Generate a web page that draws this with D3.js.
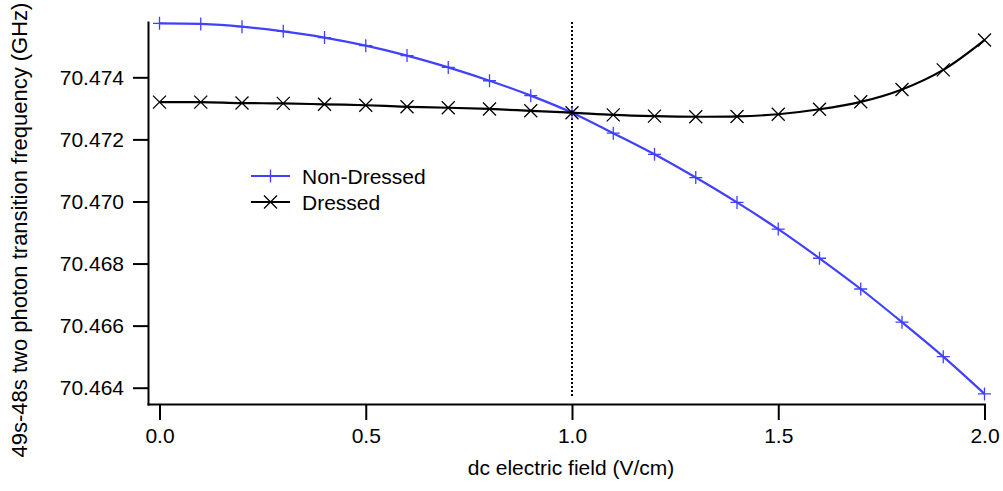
<!DOCTYPE html>
<html>
<head>
<meta charset="utf-8">
<script src="https://cdn.jsdelivr.net/npm/d3@7"></script>
<style>
    body { margin: 0; background: #fff; }
    svg { font-family: "Liberation Sans", Arial, sans-serif; }
    .axis path, .axis line { stroke: #000; stroke-width: 2px; }
    .axis text { font-size: 21px; fill: #000; font-family: "Liberation Sans", Arial, sans-serif; }
    .axis-label { font-size: 21px; fill: #000; }
</style>
</head>
<body>
<div id="chart"></div>
<script>
// dc field (V/cm)
let fields = [0.0, 0.1, 0.2, 0.3, 0.4, 0.5, 0.6, 0.7, 0.8, 0.9, 1.0,
              1.1, 1.2, 1.3, 1.4, 1.5, 1.6, 1.7, 1.8, 1.9, 2.0];

// 49s-48s two photon transition frequency (GHz)
let nonDressed = [70.47574, 70.47572, 70.47563, 70.47548, 70.47528, 70.47502, 70.47470,
                  70.47432, 70.47389, 70.47341, 70.47286, 70.47220, 70.47152, 70.47077,
                  70.46997, 70.46911, 70.46817, 70.46718, 70.46611, 70.46500, 70.46380];
let dressed = [70.47320, 70.47320, 70.47317, 70.47316, 70.47313, 70.47310, 70.47305,
               70.47302, 70.47298, 70.47292, 70.47286, 70.47279, 70.47275, 70.47273,
               70.47274, 70.47281, 70.47297, 70.47321, 70.47361, 70.47424, 70.47520];

let xTicks = [0.0, 0.5, 1.0, 1.5, 2.0];
let yTicks = [70.464, 70.466, 70.468, 70.470, 70.472, 70.474];
let markerField = 1.0;

let seriesNames = ["Non-Dressed", "Dressed"];
let seriesColors = ["#4040ff", "#000000"];

let width = 1003, height = 491;

let svg = d3.select("#chart").append("svg")
    .attr("width", width)
    .attr("height", height);

let xScale = d3.scaleLinear().domain([-0.0279, 2.0]).range([148, 984.5]);
let yScale = d3.scaleLinear().domain([70.463475, 70.475782]).range([404, 22]);

// axes
svg.append("g")
    .attr("class", "axis")
    .attr("transform", "translate(0," + 404 + ")")
    .call(d3.axisBottom(xScale).tickValues(xTicks).tickFormat(d3.format(".1f"))
        .tickSize(16).tickSizeOuter(0).tickPadding(8));

svg.append("g")
    .attr("class", "axis")
    .attr("transform", "translate(" + 148 + ",0)")
    .call(d3.axisLeft(yScale).tickValues(yTicks).tickFormat(d3.format(".3f"))
        .tickSize(15).tickSizeOuter(0).tickPadding(9));

svg.selectAll(".axis .domain").attr("stroke-linecap", "square");

// axis labels
svg.append("text")
    .classed("axis-label", true)
    .text("dc electric field (V/cm)")
    .style("text-anchor", "middle")
    .attr("transform", "translate(" + 571 + "," + 475 + ")");

svg.append("text")
    .classed("axis-label", true)
    .text("49s-48s two photon transition frequency (GHz)")
    .style("text-anchor", "middle")
    .style("font-size", "22px")
    .attr("transform", "translate(" + 27 + "," + 230 + ") rotate(-90)");

// dotted marker at 1 V/cm
svg.append("line")
    .attr("x1", xScale(markerField)).attr("x2", xScale(markerField))
    .attr("y1", yScale.range()[1]).attr("y2", yScale.range()[0] - 8)
    .attr("stroke", "#000")
    .attr("stroke-width", 2)
    .attr("stroke-dasharray", "2,2");

let line = d3.line()
    .x(d => xScale(d[0]))
    .y(d => yScale(d[1]))
    .curve(d3.curveCatmullRom);

function plusPath(s) {
    return "M" + (-s) + ",0H" + s + "M0," + (-s) + "V" + s;
}
function crossPath(s) {
    return "M" + (-s) + "," + (-s) + "L" + s + "," + s + "M" + (-s) + "," + s + "L" + s + "," + (-s);
}
let markerPaths = [plusPath(6.5), crossPath(6.5)];

let allSeries = [nonDressed, dressed];

allSeries.forEach((vals, i) => {
    let pts = fields.map((f, k) => [f, vals[k]]);
    svg.append("path")
        .datum(pts)
        .attr("fill", "none")
        .attr("stroke", seriesColors[i])
        .attr("stroke-width", 2.2)
        .attr("d", line);

    svg.selectAll(".mk" + i)
        .data(pts)
        .enter().append("path")
        .attr("class", "mk" + i)
        .attr("d", markerPaths[i])
        .attr("fill", "none")
        .attr("stroke", seriesColors[i])
        .attr("stroke-width", 1.3)
        .attr("transform", d => "translate(" + xScale(d[0]) + "," + yScale(d[1]) + ")");
});

// legend
let legend = svg.append("g")
    .attr("transform", "translate(251,176)");

seriesNames.forEach((name, i) => {
    let g = legend.append("g").attr("transform", "translate(0," + (i * 26) + ")");
    g.append("line")
        .attr("x1", 0).attr("x2", 39).attr("y1", 0).attr("y2", 0)
        .attr("stroke", seriesColors[i]).attr("stroke-width", 2);
    g.append("path")
        .attr("d", markerPaths[i])
        .attr("transform", "translate(19.5,0)")
        .attr("fill", "none")
        .attr("stroke", seriesColors[i]).attr("stroke-width", 1.3);
    g.append("text")
        .attr("x", 51).attr("y", 8)
        .style("font-size", "21px")
        .text(name);
});
</script>
</body>
</html>
